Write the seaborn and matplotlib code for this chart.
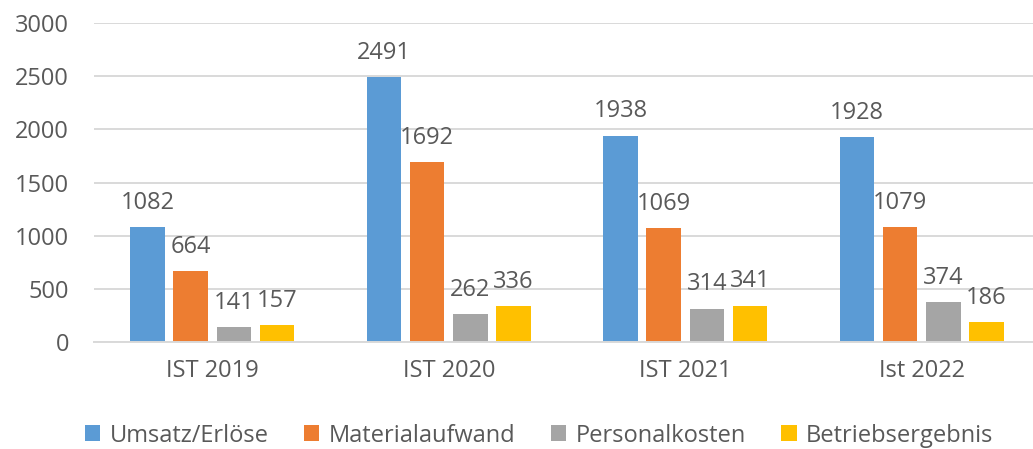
import matplotlib
matplotlib.use("Agg")
import matplotlib.pyplot as plt
import seaborn as sns
import pandas as pd

# Werte aus dem Diagramm
categories = ["IST 2019", "IST 2020", "IST 2021", "Ist 2022"]
series_names = ["Umsatz/Erlöse", "Materialaufwand", "Personalkosten", "Betriebsergebnis"]
umsatz = [1082, 2491, 1938, 1928]
material = [664, 1692, 1069, 1079]
personal = [141, 262, 314, 374]
betrieb = [157, 336, 341, 186]
y_ticks = [0, 500, 1000, 1500, 2000, 2500, 3000]

colors = ["#5B9BD5", "#ED7D31", "#A5A5A5", "#FFC000"]
text_color = "#595959"
grid_color = "#D9D9D9"

rows = []
for name, values in zip(series_names, [umsatz, material, personal, betrieb]):
    for cat, v in zip(categories, values):
        rows.append({"Jahr": cat, "Kennzahl": name, "Wert": v})
df = pd.DataFrame(rows)

sns.set_theme(style="white")
plt.rcParams["font.family"] = ["Open Sans", "DejaVu Sans"]

fig = plt.figure(figsize=(10.33, 4.49), dpi=100)
ax = fig.add_axes([0.091, 0.238, 0.9158, 0.7108])

sns.barplot(data=df, x="Jahr", y="Wert", hue="Kennzahl", hue_order=series_names,
            order=categories, palette=colors, width=0.73, gap=0.2,
            saturation=1, edgecolor="none", ax=ax)

for cont in ax.containers:
    ax.bar_label(cont, fmt="%d", padding=9, fontsize=17, color=text_color)

ax.set_ylim(0, 3000)
ax.set_xlim(-0.5, 3.5)
ax.set_yticks(y_ticks)
ax.set_yticklabels([str(t) for t in y_ticks])
ax.yaxis.grid(True, color=grid_color, linewidth=1.4)
ax.set_axisbelow(True)
for side in ["top", "right", "left"]:
    ax.spines[side].set_visible(False)
ax.spines["bottom"].set_color(grid_color)
ax.spines["bottom"].set_linewidth(1.4)
ax.tick_params(axis="y", length=0, pad=18, labelsize=17, labelcolor=text_color)
ax.tick_params(axis="x", length=0, pad=12, labelsize=17, labelcolor=text_color)
ax.set_xlabel("")
ax.set_ylabel("")

handles, labels = ax.get_legend_handles_labels()
ax.legend_.remove()
fig.legend(handles, labels, loc="center", bbox_to_anchor=(0.522, 0.03), ncol=4,
           frameon=False, fontsize=17, labelcolor=text_color,
           handlelength=0.65, handleheight=0.65, handletextpad=0.4, columnspacing=1.5)

fig.savefig("out.png", dpi=100)
